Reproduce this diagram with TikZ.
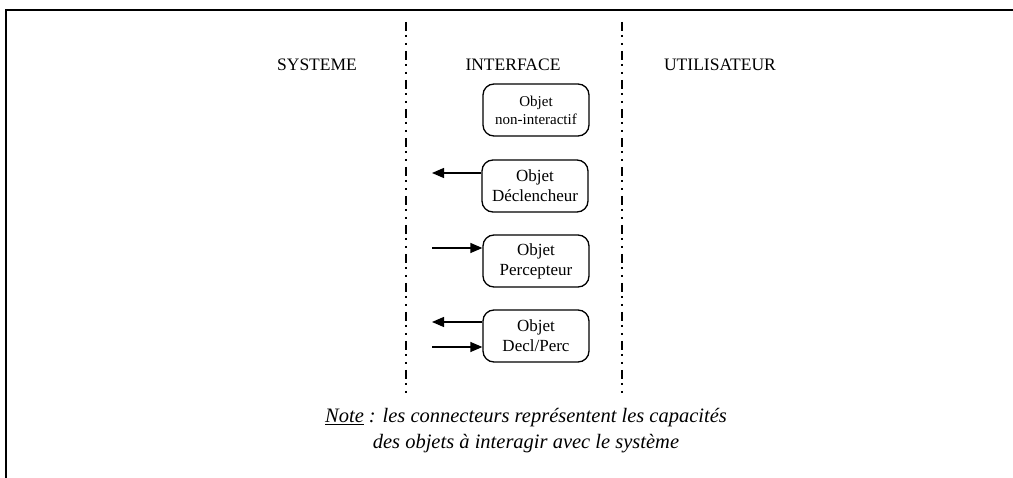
\documentclass[tikz,border=0pt]{standalone}
\usepackage{fontspec}
\setmainfont{Liberation Serif}
\usepackage{tikz}
\usetikzlibrary{arrows.meta,shapes,calc,positioning}

\tikzset{
  objbox/.style={draw, line width=1.3pt, rounded corners=11pt, minimum width=106pt,
    minimum height=52pt, align=center, inner sep=2pt, font=\fontsize{17}{20}\selectfont},
  zone/.style={font=\fontsize{17.5}{20}\selectfont},
  sepline/.style={line width=2pt, dash pattern=on 9pt off 4pt on 2pt off 6pt on 2pt off 6pt},
  conn/.style={line width=1.3pt}
}

\begin{document}
\begin{tikzpicture}[x=1pt, y=-1pt, >={Triangle[length=12pt,width=10pt]}]
        \useasboundingbox (0,0) rectangle (1013,478);

        % cadre
        \draw[line width=2.2pt] (1013,10) -- (6,10) -- (6,478);

        % separations
        \draw[sepline] (406,22) -- (406,394);
        \draw[sepline] (622,22) -- (622,394);

        \node[zone] (systeme) at (317,65) {SYSTEME};
        \node[zone] (interface) at (513,65) {INTERFACE};
        \node[zone] (utilisateur) at (720,65) {UTILISATEUR};

        % objets
        \node[objbox, font=\fontsize{15}{18}\selectfont] (nonint) at (536,110) {Objet\\non-interactif};
        \node[objbox] (decl) at (535,186) {Objet\\Déclencheur};
        \node[objbox] (perc) at (536,261) {Objet\\Percepteur};
        \node[objbox] (declperc) at (536,336) {Objet\\Decl/Perc};

        \coordinate (s1) at (432,173);
        \coordinate (s2) at (432,248);
        \coordinate (s3) at (432,322);
        \coordinate (s4) at (432,347);

        \draw[conn, ->] (decl.west |- s1) -- (s1);
        \draw[conn, ->] (s2) -- (perc.west |- s2);
        \draw[conn, ->] (declperc.west |- s3) -- (s3);
        \draw[conn, ->] (s4) -- (declperc.west |- s4);

        \node[font=\itshape\fontsize{20.5}{26}\selectfont, align=center] (note) at (526,431)
          {\underline{Note} : les connecteurs représentent les capacités\\des objets à interagir avec le système};
\end{tikzpicture}
\end{document}
